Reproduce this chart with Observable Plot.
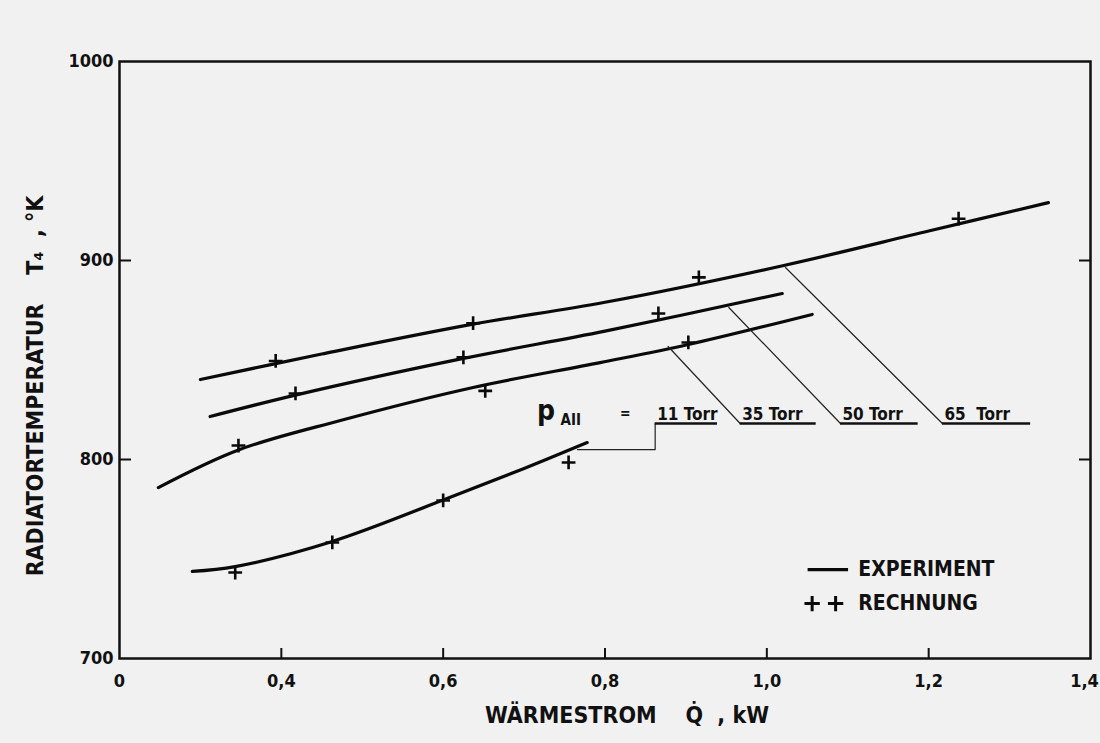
<!DOCTYPE html>
<html>
<head>
<meta charset="utf-8">
<script src="https://cdn.jsdelivr.net/npm/d3@7"></script>
<script src="https://cdn.jsdelivr.net/npm/@observablehq/plot@0.6"></script>
<style>
  html, body { margin: 0; padding: 0; background: #f1f1f1; }
  #chart svg { display: block; }
</style>
</head>
<body>
<div id="chart"></div>
<script>
// ---- tick values & labels ----
const xTicks = [0.2, 0.4, 0.6, 0.8, 1.0, 1.2, 1.4];
const xTickLabels = ["0", "0,4", "0,6", "0,8", "1,0", "1,2", "1,4"];
const yTicks = [700, 800, 900, 1000];
const yInnerTicks = [800, 900];

// ---- EXPERIMENT curves (Q kW, T K) ----
const exp11 = [[0.290, 743.8], [0.343, 746.2], [0.463, 758.8], [0.600, 779.6], [0.700, 795.5], [0.778, 808.5]];
const exp35 = [[0.248, 785.9], [0.347, 804.8], [0.473, 819.6], [0.637, 836.2], [0.794, 848.7], [0.903, 857.8], [1.056, 872.9]];
const exp50 = [[0.312, 821.6], [0.420, 832.6], [0.625, 850.8], [0.800, 864.5], [1.019, 883.4]];
const exp65 = [[0.300, 840.2], [0.450, 853.0], [0.637, 868.0], [0.800, 879.0], [1.021, 897.5], [1.200, 914.8], [1.348, 929.1]];

// ---- RECHNUNG points ----
const calc11 = [[0.343, 743.2], [0.463, 758.3], [0.600, 779.4], [0.755, 798.5]];
const calc35 = [[0.347, 807.0], [0.652, 834.5], [0.903, 858.8]];
const calc50 = [[0.4175, 833.2], [0.625, 851.3], [0.866, 873.4]];
const calc65 = [[0.393, 849.5], [0.637, 868.5], [0.916, 891.5], [1.237, 921.0]];

// ---- pressure labels & leaders ----
const torrLabels = ["11 Torr", "35 Torr", "50 Torr", "65  Torr"];
const underlineStart = [0.862, 0.967, 1.091, 1.217];
const underlineEnd = [0.939, 1.061, 1.187, 1.326];
const underlineY = 818.1;
const leader11 = [[0.766, 805.0], [0.862, 805.0], [0.862, 818.1]];
const leader35 = [[0.878, 856.8], [0.967, 818.1]];
const leader50 = [[0.953, 876.4], [1.091, 818.1]];
const leader65 = [[1.023, 896.5], [1.217, 818.1]];
const pLabelPos = { p: [0.716, 818.1], sub: [0.745, 818.1], eq: [0.825, 818.1] };

// ---- legend ----
const legendLabels = ["EXPERIMENT", "RECHNUNG"];
const legendY = [744.7, 727.6];
const legendLineX = [1.051, 1.101];
const legendCrossX = [1.056, 1.085];
const legendTextX = 1.113;

const FONT = "'DejaVu Sans Condensed', 'DejaVu Sans', sans-serif";

const toObj = (arr) => arr.map(([x, y]) => ({x, y}));
const expSeries = [exp11, exp35, exp50, exp65];
const calcAll = [calc11, calc35, calc50, calc65].flatMap(toObj);
const leaders = [leader11, leader35, leader50, leader65];
const underlines = torrLabels.map((t, i) => ({t, x1: underlineStart[i], x2: underlineEnd[i], y: underlineY}));
const xFmt = (d) => xTickLabels[xTicks.findIndex(v => Math.abs(v - d) < 1e-9)];

const marks = [
  Plot.frame({stroke: "#111", strokeWidth: 2.5}),
  // y axis labels (outside) and inward ticks
  Plot.axisY({ticks: yTicks, tickSize: 0, tickPadding: 6, tickFormat: d => String(d), label: null,
    fontSize: 18, fontWeight: "bold", fill: "#111"}),
  Plot.axisY({ticks: yInnerTicks, tickSize: -12, text: null, label: null, stroke: "#111", strokeWidth: 2}),
  Plot.axisY({anchor: "right", ticks: yInnerTicks, tickSize: -12, text: null, label: null, stroke: "#111", strokeWidth: 2}),
  // x axis labels and inward ticks
  Plot.axisX({ticks: xTicks.slice(0, -1), tickSize: 0, tickPadding: 16, label: null, fontSize: 18, fontWeight: "bold",
    fill: "#111", tickFormat: xFmt}),
  Plot.axisX({ticks: xTicks.slice(-1), tickSize: 0, tickPadding: 16, label: null, fontSize: 18, fontWeight: "bold",
    fill: "#111", dx: -6, tickFormat: xFmt}),
  Plot.axisX({ticks: xTicks.slice(1, -1), tickSize: -10, text: null, label: null, stroke: "#111", strokeWidth: 2}),
  // experiment curves
  ...expSeries.map(s => Plot.line(toObj(s), {x: "x", y: "y", curve: "catmull-rom", stroke: "#0a0a0a", strokeWidth: 3.2, strokeLinecap: "round"})),
  // calculated points
  Plot.dot(calcAll, {x: "x", y: "y", symbol: "plus", r: 4.5, stroke: "#0a0a0a", strokeWidth: 2.6}),
  // leaders
  ...leaders.map(l => Plot.line(toObj(l), {x: "x", y: "y", stroke: "#222", strokeWidth: 1.2})),
  Plot.ruleY(underlines, {x1: "x1", x2: "x2", y: "y", stroke: "#111", strokeWidth: 2.5}),
  Plot.text(underlines, {x: "x1", y: "y", text: "t", textAnchor: "start", lineAnchor: "bottom", dy: -3, dx: 2,
    fontSize: 17, fontWeight: "bold", fill: "#111", fontFamily: FONT}),
  Plot.text([pLabelPos.p], {x: d => d[0], y: d => d[1], text: ["p"], textAnchor: "start", lineAnchor: "bottom", dy: -3,
    fontSize: 28, fontWeight: "bold", fill: "#111", fontFamily: FONT}),
  Plot.text([pLabelPos.sub], {x: d => d[0], y: d => d[1], text: ["AII"], textAnchor: "start", lineAnchor: "bottom", dy: 2,
    fontSize: 15, fontWeight: "bold", fill: "#111", fontFamily: FONT}),
  Plot.text([pLabelPos.eq], {x: d => d[0], y: d => d[1], text: ["="], textAnchor: "middle", lineAnchor: "bottom", dy: -5,
    fontSize: 14, fontWeight: "bold", fill: "#111", fontFamily: FONT}),
  // legend
  Plot.ruleY([legendY[0]], {x1: legendLineX[0], x2: legendLineX[1], stroke: "#0a0a0a", strokeWidth: 3.2}),
  Plot.dot(legendCrossX.map(x => ({x, y: legendY[1]})), {x: "x", y: "y", symbol: "plus", r: 5, stroke: "#0a0a0a", strokeWidth: 3}),
  Plot.text(legendLabels.map((t, i) => ({t, y: legendY[i]})), {x: legendTextX, y: "y", text: "t", textAnchor: "start",
    fontSize: 21, fontWeight: "bold", fill: "#111", fontFamily: FONT}),
  // axis titles
  Plot.text(["WÄRMESTROM    Q̇  , kW"], {frameAnchor: "bottom", textAnchor: "middle", dx: 22, dy: 64, text: d => d,
    fontSize: 23, fontWeight: "bold", fill: "#111", fontFamily: FONT}),
  Plot.text(["RADIATORTEMPERATUR    T₄  , °K"], {frameAnchor: "left", textAnchor: "middle", dx: -84, dy: 26, rotate: -90,
    text: d => d, fontSize: 23, fontWeight: "bold", fill: "#111", fontFamily: FONT})
];

const chart = Plot.plot({
  width: 1100,
  height: 743,
  marginLeft: 119,
  marginRight: 10,
  marginTop: 61,
  marginBottom: 85,
  style: {background: "#f1f1f1", fontFamily: FONT, color: "#111", overflow: "visible"},
  x: {domain: [0.2, 1.4]},
  y: {domain: [700, 1000]},
  marks
});
document.getElementById("chart").append(chart);
</script>
</body>
</html>
